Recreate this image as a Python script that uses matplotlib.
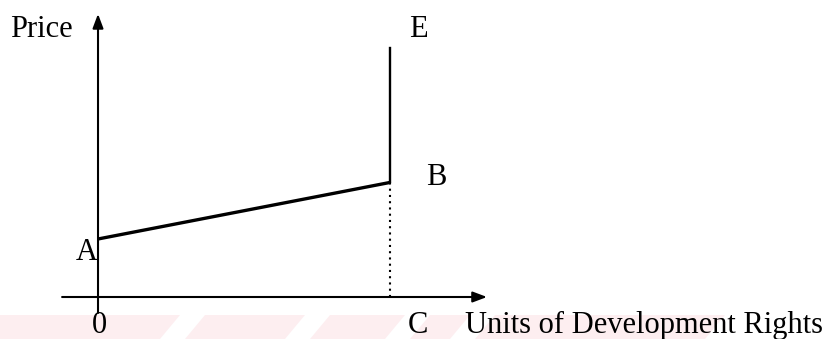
import matplotlib
matplotlib.use("Agg")
import matplotlib.pyplot as plt
from matplotlib.patches import Polygon

plt.rcParams['font.family'] = ['Liberation Serif', 'DejaVu Serif']

# supply of development rights: starts at A, rises to B at quantity C, then vertical to E
qty = [0, 10]
price_ab = [2.0, 3.95]
price_e = 8.6
qty_c = 10

fig = plt.figure(figsize=(8.36, 3.39), dpi=100)
ax = fig.add_axes([0, 0, 1, 1])
ax.set_xlim(-3.356, 25.27)
ax.set_ylim(-1.448, 10.24)
ax.axis('off')

# axes with arrow heads
arrow = dict(arrowstyle='-|>,head_length=0.85,head_width=0.32', lw=1.5,
             color='black', shrinkA=0, shrinkB=0)
ax.annotate('', xy=(0, 9.76), xytext=(0, -0.55), arrowprops=arrow)
ax.annotate('', xy=(13.32, 0), xytext=(-1.23, 0), arrowprops=arrow)

# A -> B and B -> E
ax.plot(qty, price_ab, color='black', lw=2.4, solid_capstyle='butt')
ax.plot([qty_c, qty_c], [price_ab[1], price_e], color='black', lw=1.7)
# dotted drop from B to C
ax.plot([qty_c, qty_c], [0, price_ab[1]], color='black', lw=1.5,
        linestyle=(0, (1, 2.0)))

fs = 22
ax.text(-3.01, 8.97, 'Price', fontsize=fs, ha='left', va='baseline')
ax.text(qty_c + 0.65, 8.97, 'E', fontsize=fs, ha='left', va='baseline')
ax.text(qty_c + 1.23, price_ab[1] - 0.09, 'B', fontsize=fs, ha='left', va='baseline')
ax.text(-0.75, price_ab[0] - 0.72, 'A', fontsize=fs, ha='left', va='baseline')
ax.text(-0.22, -1.24, '0', fontsize=fs, ha='left', va='baseline')
ax.text(qty_c + 0.62, -1.24, 'C', fontsize=fs, ha='left', va='baseline')
ax.text(12.57, -1.24, 'Units of Development Rights', fontsize=fs,
        ha='left', va='baseline')

# faint striped band along the bottom edge
W, H = 836.0, 339.0
def band(x0, x1, top=315, bottom=339, slant=20):
    pts = [(x0, bottom), (x1, bottom), (x1 + slant, top), (x0 + slant, top)]
    return [(px / W, 1 - py / H) for px, py in pts]

stripes = [(-30, 160), (185, 285), (310, 385), (410, 450), (475, 705)]
for x0, x1 in stripes:
    fig.patches.append(Polygon(band(x0, x1), closed=True, transform=fig.transFigure,
                               facecolor='#fdeef0', edgecolor='none', zorder=-1))

fig.savefig('out.png', dpi=100, facecolor='white')
